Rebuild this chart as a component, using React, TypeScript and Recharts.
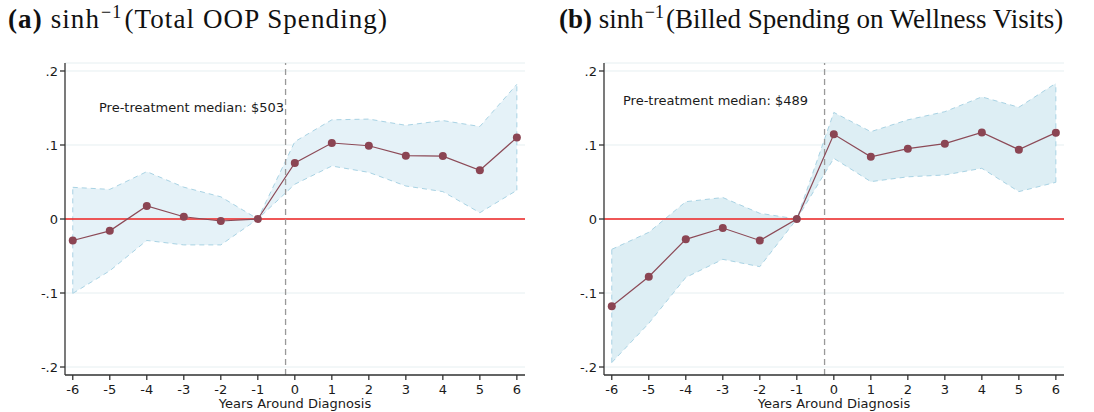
import React from 'react';
import {
  ComposedChart,
  Area,
  Line,
  XAxis,
  YAxis,
  CartesianGrid,
  ReferenceLine,
} from 'recharts';

const years = [-6, -5, -4, -3, -2, -1, 0, 1, 2, 3, 4, 5, 6];
const yTicks = [-0.2, -0.1, 0, 0.1, 0.2];

// panel (a): total OOP spending
const estA = [-0.029, -0.016, 0.0176, 0.003, -0.0027, 0, 0.0757, 0.1027, 0.099, 0.0856, 0.085, 0.0658, 0.110];
const hiA = [0.0428, 0.040, 0.064, 0.043, 0.030, 0, 0.1045, 0.134, 0.135, 0.1266, 0.133, 0.125, 0.182];
const loA = [-0.1005, -0.070, -0.029, -0.035, -0.035, 0, 0.047, 0.0716, 0.063, 0.0446, 0.037, 0.0085, 0.0388];

// panel (b): billed spending on wellness visits
const estB = [-0.118, -0.078, -0.0275, -0.0122, -0.029, 0, 0.1144, 0.084, 0.095, 0.1018, 0.117, 0.0937, 0.1167];
const hiB = [-0.041, -0.018, 0.0234, 0.029, 0.0077, 0, 0.144, 0.118, 0.134, 0.145, 0.165, 0.151, 0.1834];
const loB = [-0.194, -0.141, -0.079, -0.0545, -0.0644, 0, 0.082, 0.0505, 0.057, 0.0595, 0.0685, 0.037, 0.0496];

const FONT = '"DejaVu Sans", Verdana, sans-serif';
const SERIF = '"Liberation Serif", "Times New Roman", serif';
const EVENT_X = -0.25;

const fmtY = (v: number) => {
  if (v === 0) return '0';
  const s = v.toFixed(1);
  return s.replace('0.', '.');
};

function Panel({ est, lo, hi, fill }: { est: number[]; lo: number[]; hi: number[]; fill: string }) {
  const rows = years.map((y, i) => ({ year: y, est: est[i], band: [lo[i], hi[i]] }));
  const last = years.length - 1;
  const edge = { stroke: '#a9d3e4', strokeDasharray: '5 4', strokeWidth: 1 };
  return (
    <ComposedChart width={545} height={412} data={rows} margin={{ top: 63, right: 20, bottom: 0, left: 25 }}>
      <CartesianGrid vertical={false} stroke="#e6eff1" strokeWidth={1} />
      <XAxis
        dataKey="year"
        type="number"
        domain={[-6.21, 6.22]}
        ticks={years}
        interval={0}
        allowDataOverflow
        height={37}
        stroke="#333"
        strokeWidth={1.3}
        tickSize={5}
        tickMargin={5}
        tick={{ fill: '#1a1a1a', fontSize: 13, fontFamily: FONT }}
        label={{ value: 'Years Around Diagnosis', position: 'insideBottom', offset: 4, fill: '#1a1a1a', fontSize: 13, fontFamily: FONT }}
      />
      <YAxis
        type="number"
        domain={[-0.2108, 0.2108]}
        ticks={yTicks}
        allowDataOverflow
        width={40}
        stroke="#333"
        strokeWidth={1.3}
        tickSize={5}
        tickMargin={2}
        tickFormatter={fmtY}
        tick={{ fill: '#1a1a1a', fontSize: 13, fontFamily: FONT }}
      />
      <Area
        dataKey="band"
        type="linear"
        fill={fill}
        fillOpacity={1}
        stroke="#a9d3e4"
        strokeDasharray="5 4"
        strokeWidth={1}
        dot={false}
        activeDot={false}
        isAnimationActive={false}
      />
      <ReferenceLine segment={[{ x: years[0], y: lo[0] }, { x: years[0], y: hi[0] }]} {...edge} />
      <ReferenceLine segment={[{ x: years[last], y: lo[last] }, { x: years[last], y: hi[last] }]} {...edge} />
      <ReferenceLine y={0} stroke="#ee2222" strokeWidth={1.4} />
      <ReferenceLine x={EVENT_X} stroke="#999" strokeDasharray="6 4" strokeWidth={1.3} />
      <Line
        dataKey="est"
        type="linear"
        stroke="#8c4a57"
        strokeWidth={1.2}
        dot={{ r: 4, fill: '#8b4553', stroke: 'none' }}
        activeDot={false}
        isAnimationActive={false}
      />
    </ComposedChart>
  );
}

function Title({ tag, body, left, spacing }: { tag: string; body: string; left: number; spacing: number }) {
  return (
    <div
      style={{
        position: 'absolute',
        left,
        top: 4,
        fontFamily: SERIF,
        fontSize: 27,
        letterSpacing: spacing,
        lineHeight: '30px',
        color: '#111',
        whiteSpace: 'nowrap',
      }}
    >
      <b>{tag}</b>{' '}sinh
      <span style={{ fontSize: 18, position: 'relative', top: -10, marginLeft: 1, marginRight: 2 }}>{'\u22121'}</span>({body})
    </div>
  );
}

function Note({ text, left, top }: { text: string; left: number; top: number }) {
  return (
    <div
      style={{
        position: 'absolute',
        left,
        top,
        fontFamily: FONT,
        fontSize: 13,
        lineHeight: '13px',
        color: '#1a1a1a',
        whiteSpace: 'nowrap',
      }}
    >
      {text}
    </div>
  );
}

export default function App() {
  return (
    <div style={{ position: 'absolute', left: 0, top: 0, width: 1094, height: 412, background: '#fff', overflow: 'hidden' }}>
      <Title tag="(a)" body="Total OOP Spending" left={8} spacing={1.1} />
      <Title tag="(b)" body="Billed Spending on Wellness Visits" left={559} spacing={0} />
      <div style={{ position: 'absolute', left: 0, top: 0 }}>
        <Panel est={estA} lo={loA} hi={hiA} fill="#e5f2f8" />
      </div>
      <div style={{ position: 'absolute', left: 539, top: 0 }}>
        <Panel est={estB} lo={loB} hi={hiB} fill="#ddeef4" />
      </div>
      <Note text="Pre-treatment median: $503" left={99} top={101} />
      <Note text="Pre-treatment median: $489" left={623} top={94} />
    </div>
  );
}
